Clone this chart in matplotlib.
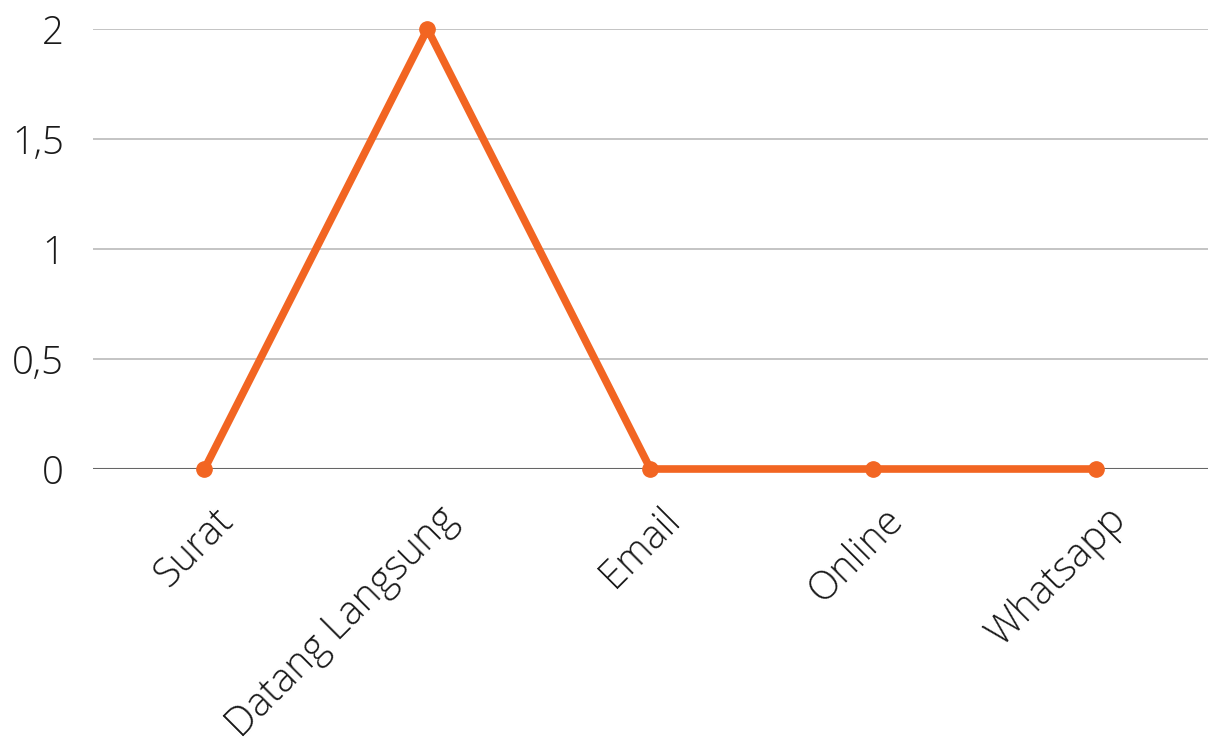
import matplotlib
matplotlib.use("Agg")
from matplotlib import pyplot as plt
from matplotlib.ticker import FuncFormatter
from matplotlib.transforms import ScaledTranslation

# data
categories = ["Surat", "Datang Langsung", "Email", "Online", "Whatsapp"]
values = [0, 2, 0, 0, 0]
yticks = [0, 0.5, 1, 1.5, 2]

plt.rcParams['font.family'] = ['Open Sans', 'DejaVu Sans']

fig = plt.figure(figsize=(12.14, 7.38), dpi=100)
ax = fig.add_axes([0.0766, 0.3645, 0.9184, 0.5962])

x = list(range(len(categories)))
ax.plot(x, values, color='#f26522', linewidth=5.5, marker='o', markersize=11,
        clip_on=False, zorder=5, solid_capstyle='round')

ax.set_xlim(-0.5, len(categories) - 0.5)
ax.set_ylim(0, 2)
ax.set_yticks(yticks)
ax.yaxis.set_major_formatter(FuncFormatter(lambda v, p: ('%g' % v).replace('.', ',')))

# grid
for v in yticks[1:]:
    ax.axhline(v, color='#bfbfbf', linewidth=1.3, zorder=1)
ax.axhline(0, color='#666666', linewidth=1.5, zorder=2)

for s in ax.spines.values():
    s.set_visible(False)
ax.tick_params(axis='both', length=0, labelcolor='#1a1a1a')
ax.tick_params(axis='y', pad=21, labelsize=27.5)
ax.tick_params(axis='x', pad=22, labelsize=28.5)
ax.set_xticks(x)
ax.set_xticklabels(categories, rotation=45, ha='right', rotation_mode='anchor')
shift = ScaledTranslation(0.09, 0, fig.dpi_scale_trans)
for lbl in ax.get_xticklabels():
    lbl.set_transform(lbl.get_transform() + shift)
for lbl in ax.get_xticklabels() + ax.get_yticklabels():
    lbl.set_fontweight('light')

plt.savefig('out.png', dpi=100)
